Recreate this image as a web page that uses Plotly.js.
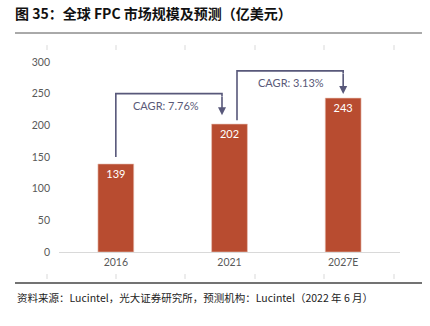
<!DOCTYPE html>
<html>
<head>
<meta charset="utf-8">
<script src="https://cdn.plot.ly/plotly-3.0.1.min.js"></script>
<style>html,body{margin:0;padding:0;background:#fff;}#chart{width:430px;height:326px;}</style>
</head>
<body>
<div id="chart"></div>
<script>
const categories = ['2016', '2021', '2027E'];
const values = [139, 202, 243];
const cagrLabels = ['CAGR: 7.76%', 'CAGR: 3.13%'];
const yTicks = [0, 50, 100, 150, 200, 250, 300];
const titleText = '图 35：全球 FPC 市场规模及预测（亿美元）';
const sourceText = '资料来源：Lucintel，光大证券研究所，预测机构：Lucintel（2022 年 6 月）';

const idx = categories.map((c, i) => i);
const barColor = '#B84C30';
const bracketColor = '#58587A';
const cjk = '"Noto Sans CJK SC", "Noto Sans", sans-serif';
const lat = 'Lato, "Noto Sans", sans-serif';

// bracket geometry (data coordinates, derived from the bar values)
const br1 = {x0: 0, y0: values[0] + 11, top: 250, x1: 0.934, y1: values[1] + 14};
const br2 = {x0: 1.066, y0: values[1] + 6, top: 286, x1: 2, y1: values[2] + 6.5};

const shapes = [];
[br1, br2].forEach(b => {
  shapes.push({type: 'path', xref: 'x', yref: 'y',
    path: `M ${b.x0} ${b.y0} L ${b.x0} ${b.top} L ${b.x1} ${b.top} L ${b.x1} ${b.top - 4}`,
    line: {color: bracketColor, width: 1.6}});
});
// decorative ticks (top and bottom) and rules
const decoX = [47, 116, 185, 255, 324, 394].map(px => (px - 59) / 341);
decoX.forEach(x => {
  shapes.push({type: 'line', xref: 'paper', yref: 'paper', x0: x, x1: x, y0: 1.063, y1: 1.089, line: {color: '#d9d9d9', width: 1}});
  shapes.push({type: 'line', xref: 'paper', yref: 'paper', x0: x, x1: x, y0: -0.116, y1: -0.142, line: {color: '#d9d9d9', width: 1}});
});
shapes.push({type: 'line', xref: 'paper', yref: 'paper', x0: -0.129, x1: 1.0645, y0: 1.1526, y1: 1.1526, line: {color: '#555', width: 1}});
shapes.push({type: 'line', xref: 'paper', yref: 'paper', x0: -0.129, x1: 1.0645, y0: -0.163, y1: -0.163, line: {color: '#444', width: 1.5}});

const annotations = [
  {x: br1.x1, y: br1.y1, ax: br1.x1, ay: br1.top - 2, axref: 'x', ayref: 'y', xref: 'x', yref: 'y',
   showarrow: true, arrowhead: 2, arrowsize: 1, arrowwidth: 1.6, arrowcolor: bracketColor, text: ''},
  {x: br2.x1, y: br2.y1, ax: br2.x1, ay: br2.top - 2, axref: 'x', ayref: 'y', xref: 'x', yref: 'y',
   showarrow: true, arrowhead: 2, arrowsize: 1, arrowwidth: 1.6, arrowcolor: bracketColor, text: ''},
  {x: 0.437, y: 232, xref: 'x', yref: 'y', text: cagrLabels[0], showarrow: false,
   font: {family: lat, size: 11, color: '#5A5A78'}},
  {x: 1.537, y: 267, xref: 'x', yref: 'y', text: cagrLabels[1], showarrow: false,
   font: {family: lat, size: 11, color: '#5A5A78'}},
  {x: -0.129, y: -0.237, xref: 'paper', yref: 'paper', xanchor: 'left', yanchor: 'middle',
   text: sourceText, showarrow: false, font: {family: cjk, size: 10.5, color: '#222'}}
];

const trace = {
  type: 'bar', x: idx, y: values, width: 0.315,
  marker: {color: barColor, line: {color: '#E9C2B6', width: 0.6}},
  text: values.map(String), textposition: 'inside', insidetextanchor: 'end',
  textfont: {family: lat, size: 11, color: '#ffffff'}, textangle: 0,
  cliponaxis: false, hoverinfo: 'none'
};

const layout = {
  width: 430, height: 326,
  margin: {l: 59, r: 30, t: 62, b: 74},
  paper_bgcolor: '#fff', plot_bgcolor: '#fff',
  showlegend: false,
  title: {text: '<b>' + titleText + '</b>', x: 15 / 430, xanchor: 'left', xref: 'container',
          y: 1 - 14 / 326, yanchor: 'middle', yref: 'container',
          font: {family: cjk, size: 14, color: '#111'}},
  xaxis: {range: [-0.5, 2.5], tickvals: idx, ticktext: categories, showgrid: false, zeroline: false,
          showline: true, linecolor: '#d9d9d9', linewidth: 1, ticks: '', fixedrange: true,
          tickfont: {family: lat, size: 10.5, color: '#595959'}},
  yaxis: {range: [0, 300], tickvals: yTicks, showgrid: false, zeroline: false, showline: false,
          ticks: '', ticklabelstandoff: 8,
          tickfont: {family: lat, size: 10.5, color: '#595959'}},
  shapes: shapes, annotations: annotations
};

Plotly.newPlot('chart', [trace], layout, {staticPlot: true, displayModeBar: false});
</script>
</body>
</html>
